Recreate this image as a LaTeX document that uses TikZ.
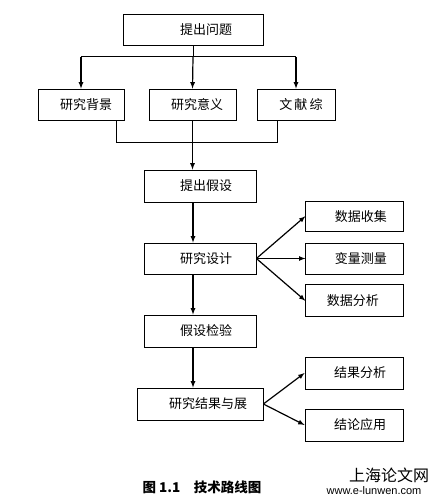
\documentclass[tikz,border=0pt]{standalone}
\usepackage{fontspec}
\setmainfont{Noto Sans CJK SC}
\newfontfamily\webfont{Liberation Sans}
\usetikzlibrary{positioning}

\begin{document}
\begin{tikzpicture}[x=1pt,y=-1pt,>=latex,
	box/.style={draw,line width=0.8pt,minimum height=31pt,inner sep=0pt,font=\fontsize{13}{15}\selectfont},
	link/.style={line width=1pt},
	arr/.style={->,line width=1.2pt}]
	\useasboundingbox (0,0) rectangle (434,503);
	\node[box,minimum width=140pt] (Q) at (193,29.5) {\hspace*{26pt}提出问题};
	\node[box,minimum width=86pt] (R1) at (81,104.5) {\hspace*{10pt}研究背景};
	\node[box,minimum width=87pt] (R2) at (192.5,104.5) {\hspace*{9pt}研究意义};
	\node[box,minimum width=78pt] (R3) at (296,104.5) {\hspace*{10pt}文\,献\,综};
	\node[box,minimum width=112pt,minimum height=32pt] (H) at (200,186) {\hspace*{12pt}提出假设};
	\node[box,minimum width=112pt] (D) at (200,258.5) {\hspace*{12pt}研究设计};
	\node[box,minimum width=98pt,right=49pt of D] (C2) {\hspace*{12pt}变量测量};
	\node[box,minimum width=98pt,minimum height=30pt,above=11pt of C2] (C1) {\hspace*{12pt}数据收集};
	\node[box,minimum width=98pt,minimum height=32pt,below=10pt of C2] (C3) {数据分析\hspace*{4pt}};
	\node[box,minimum width=112pt,minimum height=32pt] (T) at (200,331) {\hspace*{12pt}假设检验};
	\node[box,minimum width=126pt,minimum height=32pt] (E) at (200,404) {\hspace*{16pt}研究结果与展};
	\node[box,minimum width=98pt,minimum height=32pt] (A1) at (354,373) {\hspace*{12pt}结果分析};
	\node[box,minimum width=98pt,minimum height=32pt] (A2) at (354,425) {\hspace*{12pt}结论应用};
	\node[font=\fontsize{13.5}{15}\selectfont\bfseries] (cap) at (202,487) {图 1.1\quad 技术路线图};
	\node[inner sep=0pt,font=\fontsize{16}{18}\selectfont] (site) at (389,475) {上海论文网};
	\node[inner sep=0pt,font=\webfont\fontsize{11}{13}\selectfont] (url) at (374,491) {www.e-lunwen.com};
	% split below the question
	\coordinate (split) at (193,57);
	\coordinate (jl) at (116,142);
	\coordinate (jr) at (277,142);
	\draw[link] (Q.south -| split) -- (split);
	\draw[link] (R1.north |- split) -- (R3.north |- split);
	\path[arr]
	(split)	edge	(R2.north)
	(R1.north |- split)	edge	(R1.north)
	(R3.north |- split)	edge	(R3.north);
	% join of the three reasons
	\draw[link] (jl |- R1.south) -- (jl) -- (jr) -- (jr |- R3.south);
	\path[arr]
	(R2.south)	edge	(R2.south |- H.north)
	(H.south -| split)	edge	(D.north -| split)
	(D.south -| split)	edge	(T.north -| split)
	(T.south -| split)	edge	(E.north -| split)
	(D.east)	edge	(C1.west)
	(D.east)	edge	(C2.west)
	(D.east)	edge	(C3.west)
	(E.east)	edge	(A1.west)
	(E.east)	edge	(A2.west);
\end{tikzpicture}
\end{document}
